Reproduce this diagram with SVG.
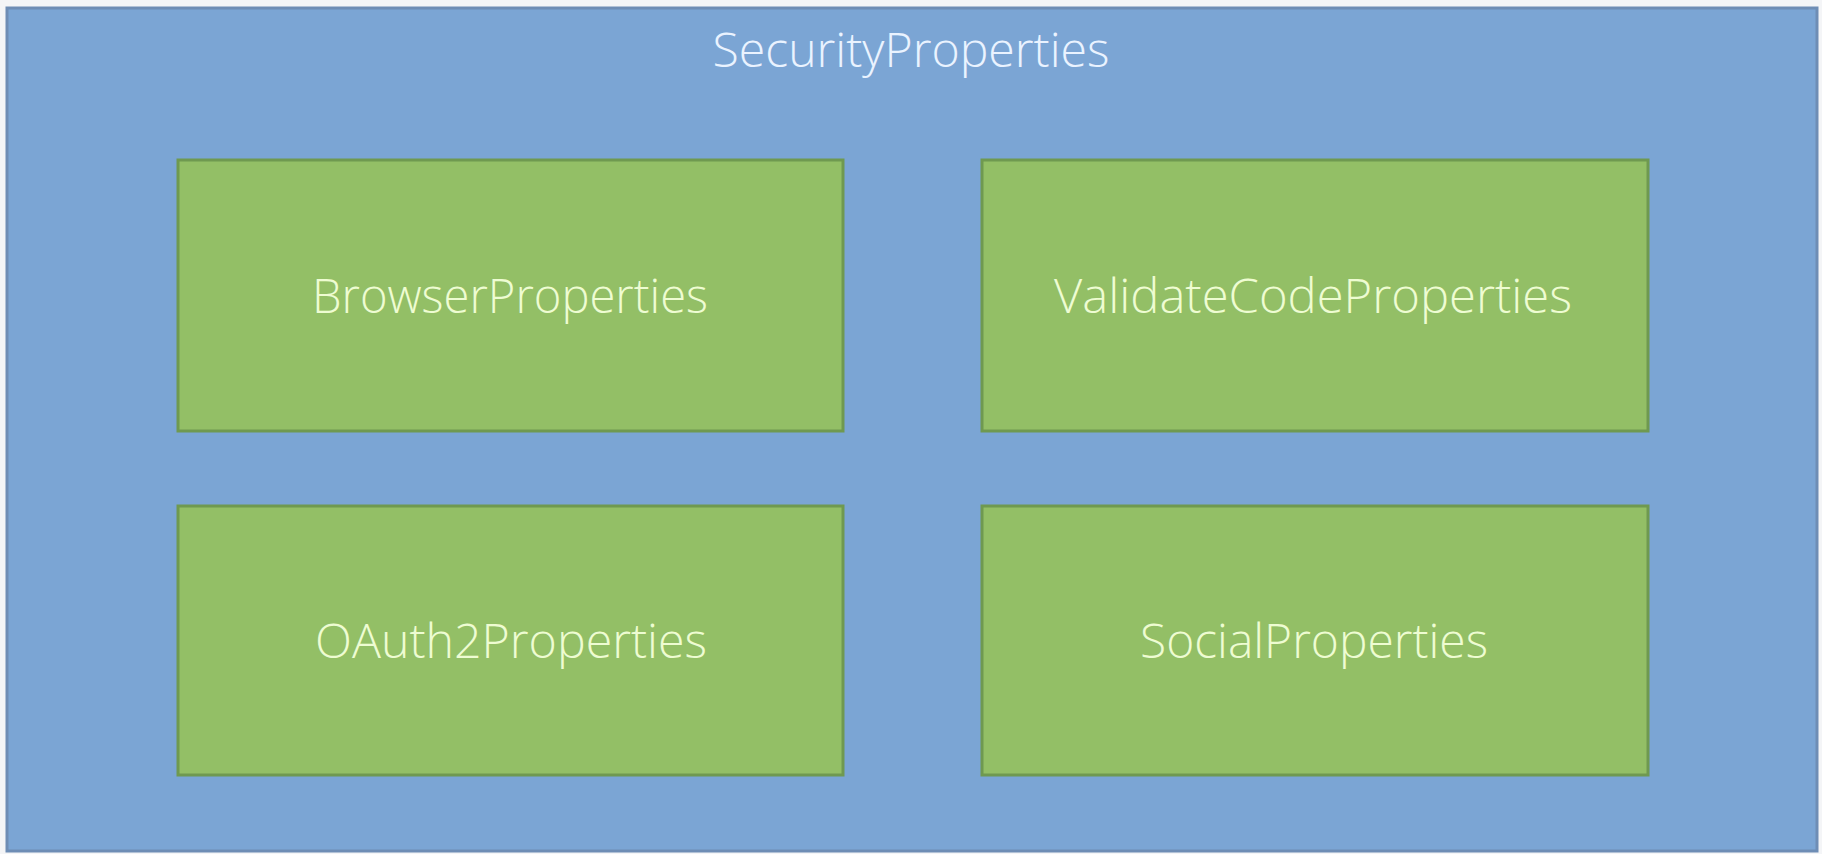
<svg xmlns="http://www.w3.org/2000/svg" width="1822" height="854" viewBox="0 0 1822 854">
  <style>
    .outer { fill: #7BA5D4; stroke: #6E8DB5; stroke-width: 3; }
    .node { fill: #93BF66; stroke: #6F9950; stroke-width: 3; }
    .title { font-family: "Open Sans", "Noto Sans", "Liberation Sans", sans-serif; font-size: 47px; font-weight: 300; fill: #EAF3FF; text-anchor: middle; }
    .label { font-family: "Open Sans", "Noto Sans", "Liberation Sans", sans-serif; font-size: 47px; font-weight: 300; fill: #EEFCD2; text-anchor: middle; }
  </style>
  <rect x="0" y="0" width="1822" height="854" fill="#F4F5F7"/>
  <g id="security-properties">
    <rect class="outer" x="7" y="8" width="1810" height="843"/>
    <text class="title" x="911" y="67" textLength="397" lengthAdjust="spacingAndGlyphs">SecurityProperties</text>
  </g>
  <g id="browser-properties">
    <rect class="node" x="178" y="160" width="665" height="271"/>
    <text class="label" x="510" y="313" textLength="396" lengthAdjust="spacingAndGlyphs">BrowserProperties</text>
  </g>
  <g id="validatecode-properties">
    <rect class="node" x="982" y="160" width="666" height="271"/>
    <text class="label" x="1313" y="313" textLength="518" lengthAdjust="spacingAndGlyphs">ValidateCodeProperties</text>
  </g>
  <g id="oauth2-properties">
    <rect class="node" x="178" y="506" width="665" height="269"/>
    <text class="label" x="511" y="658" textLength="392" lengthAdjust="spacingAndGlyphs">OAuth2Properties</text>
  </g>
  <g id="social-properties">
    <rect class="node" x="982" y="506" width="666" height="269"/>
    <text class="label" x="1314" y="658" textLength="348" lengthAdjust="spacingAndGlyphs">SocialProperties</text>
  </g>
  <g id="connectors"></g>
</svg>
